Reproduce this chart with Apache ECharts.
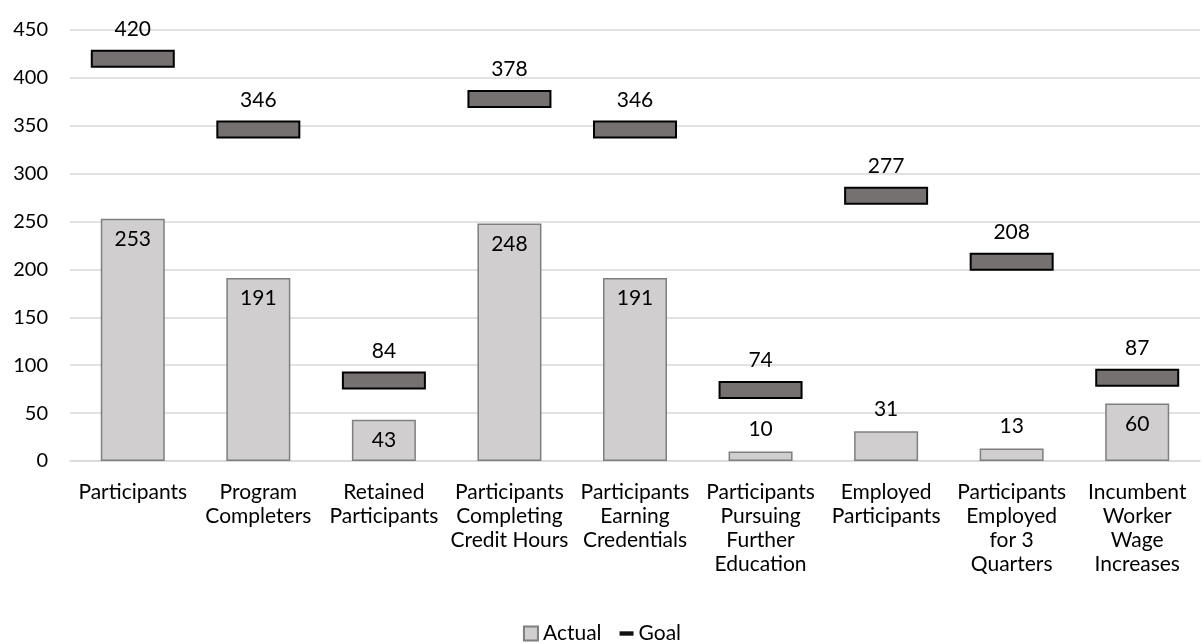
<!DOCTYPE html>
<html>
<head>
<meta charset="utf-8">
<script src="https://cdn.jsdelivr.net/npm/echarts@6/dist/echarts.min.js"></script>
<style>
  html, body { margin: 0; padding: 0; background: #fff; }
  #chart { width: 1204px; height: 643px; }
</style>
</head>
<body>
<div id="chart"></div>
<script>
const categories = [
  'Participants',
  'Program\nCompleters',
  'Retained\nParticipants',
  'Participants\nCompleting\nCredit Hours',
  'Participants\nEarning\nCredentials',
  'Participants\nPursuing\nFurther\nEducation',
  'Employed\nParticipants',
  'Participants\nEmployed\nfor 3\nQuarters',
  'Incumbent\nWorker\nWage\nIncreases'
];
const actual = [253, 191, 43, 248, 191, 10, 31, 13, 60];
const goal = [420, 346, 84, 378, 346, 74, 277, 208, 87];

const font = 'Lato, "Liberation Sans", sans-serif';
const fs = 21;
const chart = echarts.init(document.getElementById('chart'));

// goal marker: a flat box centred on the goal value, label above it
function renderGoal(params, api) {
  const p = api.coord([api.value(0), api.value(1)]);
  const w = 82, h = 16;
  return {
    type: 'group',
    children: [
      {
        type: 'rect',
        shape: { x: p[0] - w / 2, y: p[1] - h / 2, width: w, height: h },
        style: { fill: '#767171', stroke: '#000', lineWidth: 2 }
      },
      {
        type: 'text',
        x: p[0],
        y: p[1] - h / 2 - 11,
        style: {
          text: String(api.value(1)),
          fill: '#000',
          font: fs + 'px ' + font,
          align: 'center',
          verticalAlign: 'bottom'
        }
      }
    ]
  };
}

chart.setOption({
  animation: false,
  textStyle: { fontFamily: font },
  grid: { left: 70, right: 4, top: 30, bottom: 182 },
  legend: {
    top: 618,
    left: 'center',
    itemWidth: 14,
    itemHeight: 14,
    itemGap: 18,
    textStyle: { fontSize: fs, color: '#000', fontFamily: font },
    data: [
      { name: 'Actual', icon: 'rect' },
      { name: 'Goal', icon: 'path://M0,0H16V5H0Z', itemStyle: { color: '#111', borderWidth: 0 } }
    ]
  },
  xAxis: {
    type: 'category',
    data: categories,
    axisLine: { lineStyle: { color: '#d9d9d9', width: 1.5 } },
    axisTick: { show: false },
    axisLabel: {
      interval: 0,
      color: '#000',
      fontSize: fs,
      lineHeight: 24,
      margin: 19,
      fontFamily: font
    }
  },
  yAxis: {
    type: 'value',
    min: 0,
    max: 450,
    interval: 50,
    axisLine: { show: false },
    axisTick: { show: false },
    splitLine: { lineStyle: { color: '#d9d9d9', width: 1.5 } },
    axisLabel: { color: '#000', fontSize: 20, margin: 22, fontFamily: font }
  },
  series: [
    {
      name: 'Actual',
      type: 'bar',
      barWidth: 64,
      data: actual.map(v => ({
        value: v,
        label: v < 40 ? { position: 'top', distance: 12 } : { position: 'insideTop', distance: 10 }
      })),
      itemStyle: { color: '#d0cecf', borderColor: '#7f7f7f', borderWidth: 1.5 },
      label: { show: true, color: '#000', fontSize: fs, fontFamily: font },
      z: 2
    },
    {
      name: 'Goal',
      type: 'custom',
      renderItem: renderGoal,
      data: goal.map((v, i) => [i, v]),
      itemStyle: { color: '#111' },
      z: 3
    }
  ]
});
</script>
</body>
</html>
